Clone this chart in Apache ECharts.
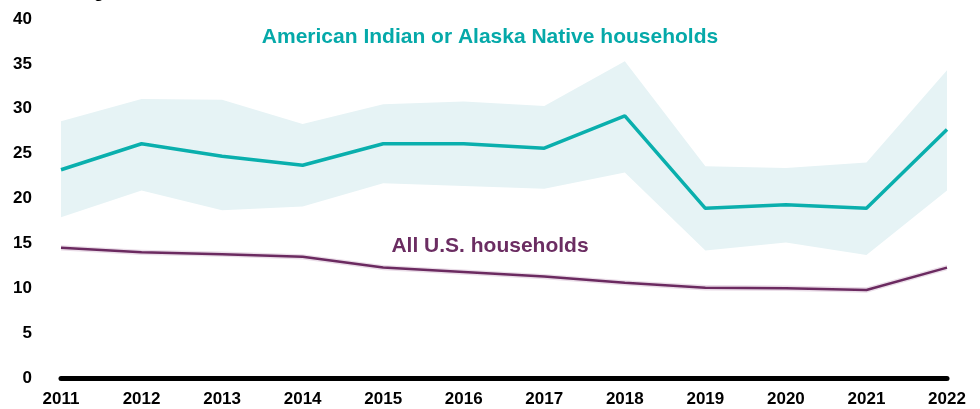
<!DOCTYPE html>
<html><head><meta charset="utf-8">
<script src="https://cdn.jsdelivr.net/npm/echarts@6/dist/echarts.min.js"></script>
<style>html,body{margin:0;padding:0;background:#fff}#c{width:980px;height:409px}</style>
</head><body><div id="c"></div>
<script>
const years = ['2011','2012','2013','2014','2015','2016','2017','2018','2019','2020','2021','2022'];
const aianValues = [23.2, 26.1, 24.7, 23.7, 26.1, 26.1, 25.6, 29.2, 18.9, 19.3, 18.9, 27.7];
const aianUpper  = [28.6, 31.1, 31.0, 28.3, 30.5, 30.8, 30.3, 35.3, 23.6, 23.4, 24.0, 34.3];
const aianLower  = [17.9, 20.9, 18.7, 19.1, 21.7, 21.4, 21.1, 22.9, 14.2, 15.1, 13.7, 20.9];
const usValues   = [14.5, 14.0, 13.8, 13.5, 12.3, 11.8, 11.3, 10.6, 10.05, 10.0, 9.8, 12.3];
const usUpper    = [14.8, 14.3, 14.1, 13.8, 12.6, 12.1, 11.6, 10.9, 10.35, 10.3, 10.1, 12.6];
const usLower    = [14.2, 13.7, 13.5, 13.2, 12.0, 11.5, 11.0, 10.3, 9.75, 9.7, 9.5, 12.0];
const yTicks = [0, 5, 10, 15, 20, 25, 30, 35, 40];

const diff = (a, b) => a.map((v, i) => +(v - b[i]).toFixed(2));
const chart = echarts.init(document.getElementById('c'));
const font = 'Arial, "Liberation Sans", sans-serif';
chart.setOption({
  animation: false,
  grid: {left: 61, right: 33, top: 19, bottom: 31, containLabel: false},
  xAxis: {
    type: 'category', data: years, boundaryGap: false,
    axisLine: {lineStyle: {color: '#000', width: 5}},
    axisTick: {show: false},
    axisLabel: {color: '#000', fontWeight: 'bold', fontSize: 17, fontFamily: font, margin: 13}
  },
  yAxis: {
    type: 'value', min: yTicks[0], max: yTicks[yTicks.length - 1], interval: 5,
    axisLine: {show: false}, axisTick: {show: false}, splitLine: {show: false},
    axisLabel: {color: '#000', fontWeight: 'bold', fontSize: 17, fontFamily: font, margin: 29}
  },
  graphic: [
    {type: 'text', left: 22, top: -15, style: {text: 'Percentage', fill: '#000', font: 'bold 17px ' + font}},
    {type: 'text', x: 490, y: 37, style: {text: 'American Indian or Alaska Native households', fill: '#05a9a9', font: 'bold 21px ' + font, align: 'center', verticalAlign: 'middle'}},
    {type: 'text', x: 490, y: 246, style: {text: 'All U.S. households', fill: '#6b2d62', font: 'bold 21px ' + font, align: 'center', verticalAlign: 'middle'}}
  ],
  series: [
    {type: 'line', data: aianLower, stack: 'a', symbol: 'none', lineStyle: {opacity: 0}, silent: true},
    {type: 'line', data: diff(aianUpper, aianLower), stack: 'a', symbol: 'none', lineStyle: {opacity: 0}, areaStyle: {color: '#e6f3f5', opacity: 1}, silent: true},
    {type: 'line', data: usLower, stack: 'u', symbol: 'none', lineStyle: {opacity: 0}, silent: true},
    {type: 'line', data: diff(usUpper, usLower), stack: 'u', symbol: 'none', lineStyle: {opacity: 0}, areaStyle: {color: '#eadde8', opacity: 1}, silent: true},
    {type: 'line', data: aianValues, symbol: 'none', lineStyle: {color: '#0aafad', width: 3.5}},
    {type: 'line', data: usValues, symbol: 'none', lineStyle: {color: '#6b2a60', width: 2.5}}
  ]
});
</script></body></html>
